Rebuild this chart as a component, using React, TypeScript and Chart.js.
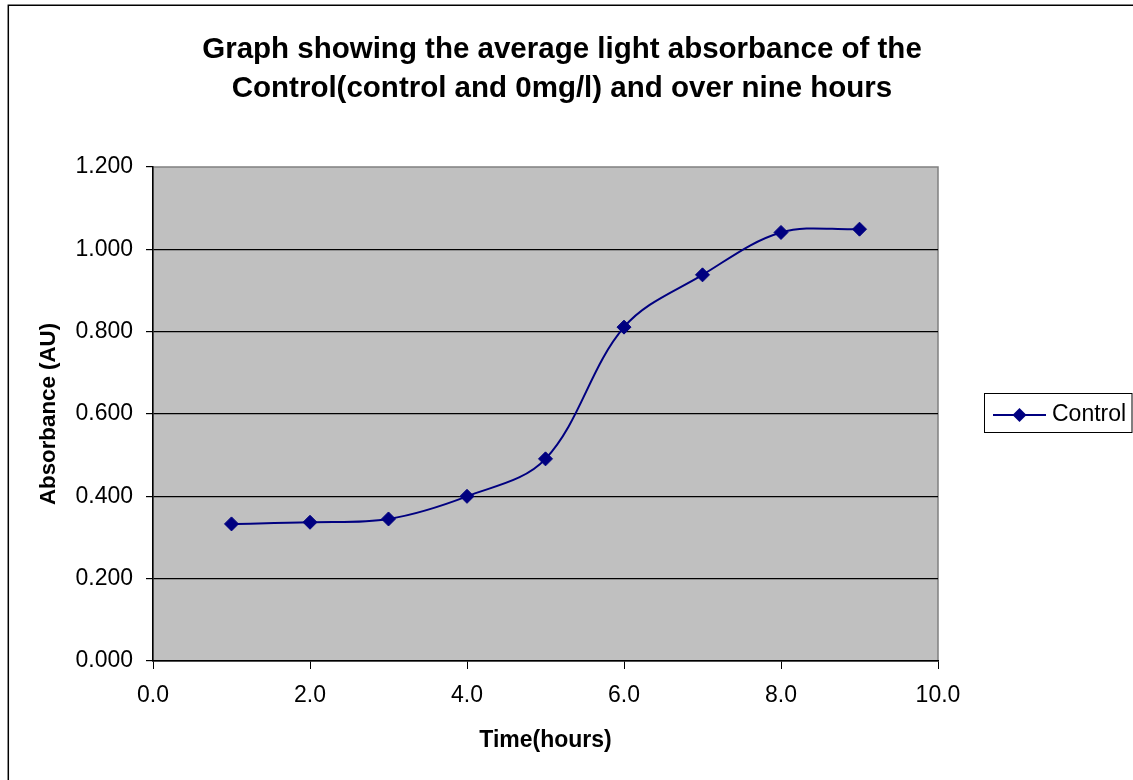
import React, { useEffect, useRef } from "react";
import { Chart, registerables } from "chart.js";

Chart.register(...registerables);

const titleLines = [
  "Graph showing the average light absorbance of the",
  "Control(control and 0mg/l) and over nine hours",
];
const seriesName = "Control";
const timeHours = [1, 2, 3, 4, 5, 6, 7, 8, 9];
const absorbance = [0.333, 0.337, 0.345, 0.4, 0.491, 0.811, 0.938, 1.041, 1.049];
const xAxisTitle = "Time(hours)";
const yAxisTitle = "Absorbance (AU)";

const FONT = "'Liberation Sans', Arial, sans-serif";
const NAVY = "#000080";

const decorPlugin = {
  id: "decor",
  beforeDraw(chart: any) {
    const { ctx, chartArea } = chart;
    ctx.save();
    ctx.fillStyle = "#ffffff";
    ctx.fillRect(0, 0, chart.width, chart.height);
    // outer frame
    ctx.strokeStyle = "#000000";
    ctx.lineWidth = 1.5;
    ctx.beginPath();
    ctx.moveTo(8.3, chart.height + 2);
    ctx.lineTo(8.3, 5.3);
    ctx.lineTo(chart.width + 2, 5.3);
    ctx.stroke();
    // plot area
    ctx.fillStyle = "#C0C0C0";
    ctx.fillRect(chartArea.left, chartArea.top, chartArea.right - chartArea.left, chartArea.bottom - chartArea.top);
    ctx.strokeStyle = "#808080";
    ctx.lineWidth = 1.5;
    ctx.strokeRect(chartArea.left, chartArea.top, chartArea.right - chartArea.left, chartArea.bottom - chartArea.top);
    // title
    ctx.fillStyle = "#000000";
    ctx.font = `bold 29.5px ${FONT}`;
    ctx.textAlign = "center";
    ctx.textBaseline = "alphabetic";
    ctx.fillText(titleLines[0], 562, 58);
    ctx.fillText(titleLines[1], 562, 97);
    ctx.restore();
  },
  afterDraw(chart: any) {
    const { ctx } = chart;
    ctx.save();
    // legend
    ctx.strokeStyle = "#000000";
    ctx.lineWidth = 1;
    ctx.strokeRect(984.5, 393.5, 147.5, 39);
    ctx.strokeStyle = NAVY;
    ctx.lineWidth = 2;
    ctx.beginPath();
    ctx.moveTo(993, 415);
    ctx.lineTo(1046, 415);
    ctx.stroke();
    ctx.fillStyle = NAVY;
    ctx.beginPath();
    const cx = 1019.5, cy = 415, r = 7;
    ctx.moveTo(cx, cy - r);
    ctx.lineTo(cx + r, cy);
    ctx.lineTo(cx, cy + r);
    ctx.lineTo(cx - r, cy);
    ctx.closePath();
    ctx.fill();
    ctx.fillStyle = "#000000";
    ctx.font = `23px ${FONT}`;
    ctx.textAlign = "left";
    ctx.textBaseline = "middle";
    ctx.fillText(seriesName, 1052, 415);
    ctx.restore();
  },
};

export default function App() {
  const ref = useRef<HTMLCanvasElement | null>(null);
  useEffect(() => {
    if (!ref.current) return;
    const chart = new Chart(ref.current, {
      type: "line",
      data: {
        datasets: [
          {
            label: seriesName,
            data: timeHours.map((x, i) => ({ x, y: absorbance[i] })),
            borderColor: NAVY,
            backgroundColor: NAVY,
            borderWidth: 2,
            pointStyle: "rectRot",
            pointRadius: 7,
            pointBorderWidth: 1,
            pointBackgroundColor: NAVY,
            pointBorderColor: NAVY,
            tension: 0.35,
            fill: false,
          },
        ],
      },
      options: {
        animation: false,
        responsive: false,
        maintainAspectRatio: false,
        layout: { padding: { left: 0, right: 195, top: 167, bottom: 0 } },
        plugins: {
          legend: { display: false },
          title: { display: false },
          tooltip: { enabled: false },
        },
        scales: {
          x: {
            type: "linear",
            min: 0,
            max: 10,
            afterFit: (s: any) => {
              s.height = 119;
            },
            ticks: {
              stepSize: 2,
              color: "#000000",
              padding: 13,
              maxRotation: 0,
              font: { family: FONT, size: 23 },
              callback: (v: any) => Number(v).toFixed(1),
            },
            grid: {
              drawOnChartArea: false,
              drawTicks: true,
              tickLength: 8,
              tickColor: "#000000",
            },
            border: { display: true, color: "#000000", width: 1.5 },
            title: {
              display: true,
              text: xAxisTitle,
              color: "#000000",
              font: { family: FONT, size: 23, weight: "bold" },
              padding: { top: 0, bottom: 25.2 },
            },
          },
          y: {
            type: "linear",
            min: 0,
            max: 1.2,
            afterFit: (s: any) => {
              s.width = 153;
            },
            ticks: {
              stepSize: 0.2,
              color: "#000000",
              padding: 13,
              font: { family: FONT, size: 23 },
              callback: (v: any) => Number(v).toFixed(3),
            },
            grid: {
              drawOnChartArea: true,
              drawTicks: true,
              tickLength: 7,
              tickColor: "#000000",
              lineWidth: 1.2,
              color: (c: any) => {
                const v = c.tick ? c.tick.value : 0;
                return v > 0.01 && v < 1.19 ? "#000000" : "rgba(0,0,0,0)";
              },
            },
            border: { display: true, color: "#000000", width: 1.5 },
            title: {
              display: true,
              text: yAxisTitle,
              color: "#000000",
              font: { family: FONT, size: 22.3, weight: "bold" },
              padding: { top: 35.6, bottom: 0 },
            },
          },
        },
      },
      plugins: [decorPlugin],
    });
    return () => chart.destroy();
  }, []);
  return (
    <div style={{ position: "fixed", left: 0, top: 0, width: 1133, height: 780, background: "#fff" }}>
      <canvas ref={ref} width={1133} height={780} style={{ display: "block" }} />
    </div>
  );
}
